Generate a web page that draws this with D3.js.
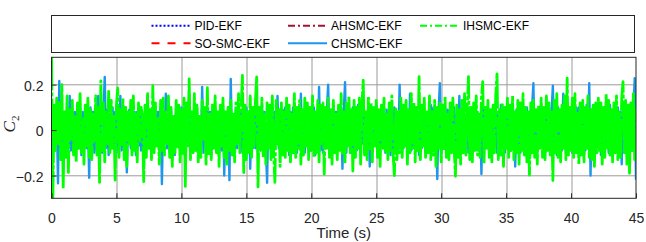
<!DOCTYPE html>
<html>
<head>
<meta charset="utf-8">
<script src="https://cdn.jsdelivr.net/npm/d3@7"></script>
<style>
body { margin: 0; background: #fff; }
svg { display: block; font-family: "Liberation Sans", Arial, sans-serif; }
.grid line { stroke: #9a9a9a; stroke-width: 1; }
.box { fill: none; stroke: #262626; stroke-width: 1; }
.tick-label { fill: #262626; }
</style>
</head>
<body>
<svg id="chart" width="646" height="242"></svg>
<script>
// sampling of the fast signals (s) and of the hidden reference signals (s)
const fineStep = 0.1
const coarseStep = 1

const xTicks = [0, 5, 10, 15, 20, 25, 30, 35, 40, 45]
const yTicks = [-0.2, 0, 0.2]
const xDomain = [0, 45]
const yDomain = [-0.3, 0.32]

// C2 estimates
const pidEkf = [0, .02, -.03, .01, .03, -.02, .01, -.03, .02, .01, -.02, .03, -.01, .02, -.03, .01, .02, -.02, .01, -.01, .03, -.02, .01, .02, -.03, .01, -.01, .02, -.02, .03, -.01, .02, -.03, .01, .01, -.02, .03, -.01, .02, -.02, .01, -.03, .02, .01, -.02, .01]
const soSmcEkf = [0, -.02, .03, -.01, .02, .01, -.03, .02, -.01, .03, -.02, .01, .02, -.03, .01, -.01, .03, -.02, .02, -.01, .01, .03, -.02, -.01, .02, -.03, .01, .02, -.01, .03, -.02, .01, -.01, .02, -.03, .02, .01, -.02, .03, -.01, .02, -.02, .01, .03, -.01, .02]
const ahsmcEkf = [0, .03, -.01, -.02, .02, -.03, .01, .02, -.02, .01, .03, -.01, -.02, .02, .01, -.03, .02, -.01, .03, -.02, .01, -.01, .02, -.03, .02, .01, -.02, .03, -.01, .01, -.02, .03, -.01, .02, -.02, .01, .02, -.03, .01, -.01, .03, -.02, .02, -.01, .01, -.02]
const chsmcEkf = [
  .04, -.07, .09, -.06, .10, -.234, .216, -.08, .07, -.10,
  .08, -.06, .10, -.08, .15, -.09, .06, -.10, .08, -.07,
  .09, -.08, .06, -.11, .08, -.05, .10, -.08, .07, -.21,
  .10, -.07, .08, -.10, .06, -.09, .15, -.06, .08, -.10,
  .08, .234, -.08, .09, -.11, .07, -.08, .10, -.06, .08,
  -.10, .08, -.07, .15, -.09, .06, -.08, .10, -.186, .07,
  .09, -.08, .10, -.06, .08, -.11, .08, -.07, .10, -.09,
  .06, -.10, .08, -.08, .15, -.06, .09, -.10, .07, -.08,
  .10, -.07, .08, -.09, .10, -.237, .08, -.06, .16, -.08,
  .07, -.10, .09, -.08, .06, -.11, .10, -.07, .08, -.09,
  .10, -.08, .07, -.10, .09, -.06, .16, -.08, .08, -.10,
  .08, -.07, .10, -.09, .06, -.08, .19, -.10, .08, -.07,
  .10, -.08, .08, -.11, .09, -.06, .10, -.08, .07, -.10,
  .08, -.09, .11, -.20, .08, -.07, .10, -.22, .225, -.08,
  .07, -.10, .09, -.08, .11, -.06, .08, -.10, .08, -.09,
  .10, -.07, .08, -.17, .06, -.08, .10, -.08, .09, -.10,
  .08, -.06, .11, -.09, .08, -.07, -.232, .10, -.08, .07,
  .09, -.10, .08, -.06, .15, -.08, .07, -.10, .09, -.08,
  .10, -.07, .08, -.11, .08, -.09, .10, -.06, .07, -.10,
  .09, -.08, .16, -.08, .06, -.10, .08, -.07, .10, -.09,
  .08, -.06, .10, -.11, .08, -.07, .19, -.09, .08, -.10,
  .09, -.08, .08, .20, -.10, .07, -.08, .11, -.06, .08,
  -.09, .10, -.07, .08, -.17, .08, .21, -.10, .09, -.07,
  .08, -.10, .10, -.08, .07, -.09, .11, -.08, .08, -.06,
  .10, -.10, .08, -.07, .09, -.16, .08, -.08, .10, -.06,
  .11, -.09, .07, -.08, .10, -.08, .06, -.10, .09, -.07,
  .08, -.11, .08, -.09, .10, -.06, .07, -.10, .20, -.08,
  .09, -.08, .10, -.07, .08, -.10, .16, -.09, .06, -.08,
  .10, -.07, .08, -.11, .09, -.08, .10, -.06, .07, -.10,
  .08, -.09, .11, -.08, .10, -.07, .06, -.215, .08, .206,
  -.10, .08, -.08, .10, -.07, .09, -.11, .08, -.06, .08,
  .10, -.09, .07, -.08, .15, -.08, .09, -.10, .06, -.07,
  .08, -.10, .10, -.08, .09, -.07, .11, -.08, .08, -.09,
  .07, -.193, .10, -.08, .10, -.06, .08, -.11, .08, -.09,
  .10, -.07, .09, -.10, .08, -.08, .11, -.06, .07, -.10,
  .10, -.08, .08, -.09, .10, -.07, .08, -.16, .09, -.08,
  .06, -.10, .11, -.08, .07, -.09, .10, -.08, .08, -.07,
  .10, .206, -.09, .08, -.10, .08, -.06, .11, -.08, .07,
  -.10, .09, -.08, .10, -.07, .08, .195, -.09, .08, -.11,
  .10, -.08, .07, -.09, .16, -.08, .08, -.10, .06, -.07,
  .09, -.10, .08, -.08, .10, -.06, .10, -.11, .08, -.08,
  .07, -.09, .11, -.08, .206, -.20, .09, -.08, .10, -.10,
  .08, -.07, .10, -.11, .08, -.09, .10, -.06, .08, -.10,
  .11, -.08, .07, -.10, .09, -.08, .10, -.07, .08, -.15,
  .10, -.08, .09, -.08, .11, -.10, .07, -.09, .08, .228,
  -.218
]
const ihsmcEkf = [
  .35, -.32, .11, -.09, .14, -.06, .12, -.13, .20, -.256,
  .08, -.12, .15, -.186, .09, -.04, .13, -.11, .06, -.14,
  .12, -.08, .16, -.10, .05, -.15, .11, -.07, .14, -.12,
  .09, -.13, .07, -.05, .15, -.11, .10, -.23, .216, -.09,
  .12, -.14, .08, -.06, .17, -.10, .13, -.08, .06, -.22,
  .11, .185, -.12, .09, -.07, .14, -.13, .10, -.16, .08,
  -.06, .13, -.11, .15, -.09, .07, -.14, .12, -.05, .10,
  .06, -.227, .11, -.12, .16, -.08, .09, -.13, .195, -.10,
  .12, -.07, .05, -.15, .13, -.09, .14, -.11, .08, -.06,
  .15, -.12, .10, -.16, .07, -.10, .13, -.08, .11, -.14,
  .09, -.11, .14, -.248, .12, -.07, .225, -.13, .08, -.10,
  .16, -.09, .11, -.14, .06, -.12, .13, -.05, .10, -.15,
  .186, -.11, .07, -.13, .12, -.08, .15, -.10, .09, -.16,
  .11, -.07, .14, -.12, .08, -.15, .10, -.09, .13, -.11,
  .07, -.14, .12, -.06, .16, -.10, .09, .24, -.187, .11,
  -.13, .08, -.10, .15, -.12, .10, -.07, .13, .234, -.25,
  .10, -.09, .14, -.12, .07, -.15, .12, -.08, .11, -.13,
  .15, -.10, -.23, .13, -.07, .09, -.16, .12, -.11, .08,
  -.12, .14, -.09, .11, -.14, .07, -.10, .16, -.12, .10,
  -.08, .13, -.15, .09, -.11, .14, -.07, .12, -.13, .10,
  -.09, .15, -.12, .08, -.10, .13, -.14, .11, -.06, .12,
  -.194, .10, -.08, .14, -.12, .09, -.15, .13, -.10, .07,
  -.13, .11, -.09, .16, -.11, .08, -.14, .12, -.07, .15,
  -.10, .09, -.18, .13, -.12, .10, -.08, .14, -.15, .11,
  .22, -.11, .08, -.13, .15, -.09, .12, -.14, .10, -.07,
  .13, -.12, .09, -.16, .11, -.08, .14, -.10, .07, -.13,
  .12, -.09, .15, -.11, -.20, .10, -.13, .08, -.10, .14,
  -.12, .11, -.07, .13, -.15, .09, -.10, .16, -.08, .12,
  -.14, .10, -.09, .235, -.13, .11, -.07, .14, -.12, .08,
  -.10, .15, -.13, .09, -.11, .13, -.16, .10, -.08, .12,
  -.14, .11, -.09, .15, -.12, .07, -.13, .12, -.10, .14,
  -.08, -.203, .11, -.12, .09, -.15, .13, -.10, .16, -.11,
  .08, .235, -.13, .10, -.14, .12, -.09, .15, -.11, .07,
  -.12, .14, .213, -.15, .10, -.08, .13, -.12, .09, -.14,
  .11, -.10, .15, .247, -.13, .09, -.11, .12, -.16, .10,
  -.08, .14, -.12, .11, -.09, .15, -.13, .08, -.10, .13,
  -.15, .12, -.09, .16, -.11, .10, -.14, .08, -.198, .12,
  -.10, .13, -.12, .09, -.15, .11, -.08, .14, -.12, .10,
  -.13, .15, -.09, .12, -.11, .08, -.222, .13, -.10, .16,
  -.12, .09, -.14, .11, -.08, .15, -.13, .228, -.11, .10,
  -.09, .14, -.12, .16, -.10, .08, -.15, .12, -.11, .13,
  -.14, .10, -.08, .15, -.12, .09, -.13, .11, -.16, .12,
  -.10, .14, -.09, .12, -.15, .10, -.12, .16, -.08, .13,
  -.11, .09, -.14, .12, -.10, .15, -.13, .08, -.12, .14,
  .213, -.10, .13, -.15, .11, -.19, .12, -.09, .16, -.13,
  .10
]

// plot order matters: the last one drawn ends up on top
const series = [
  { name: 'PID-EKF', values: pidEkf, step: coarseStep, color: '#0000ff', dash: '2,2', legendDash: '2,2', width: 2 },
  { name: 'SO-SMC-EKF', values: soSmcEkf, step: coarseStep, color: '#ff0000', dash: '8,8', legendDash: '8,8', width: 2 },
  { name: 'AHSMC-EKF', values: ahsmcEkf, step: coarseStep, color: '#a2142f', dash: '7,3,2,3', legendDash: '7,3,2,3', width: 2 },
  { name: 'CHSMC-EKF', values: chsmcEkf, step: fineStep, color: '#1e96f0', dash: null, legendDash: null, width: 2.4 },
  { name: 'IHSMC-EKF', values: ihsmcEkf, step: fineStep, color: '#00ff00', dash: '40,2,4,2', legendDash: '7,3,2,3', width: 2.8 }
]

const layout = { left: 51.5, top: 57.3, width: 584.5, height: 141 }

const svg = d3.select('#chart')
const g = svg.append('g').attr('transform', `translate(${layout.left},${layout.top})`)

const xScale = d3.scaleLinear().domain(xDomain).range([0, layout.width])
const yScale = d3.scaleLinear().domain(yDomain).range([layout.height, 0])

g.append('defs').append('clipPath').attr('id', 'clip-plot')
  .append('rect').attr('width', layout.width).attr('height', layout.height)

g.append('rect').attr('width', layout.width).attr('height', layout.height).attr('fill', '#fff')

// grid
const gridG = g.append('g').attr('class', 'grid')
gridG.selectAll('.vline').data(xTicks.filter(t => t !== xDomain[0] && t !== xDomain[1]))
  .enter().append('line')
  .attr('x1', t => Math.round(xScale(t)) + 0.5).attr('x2', t => Math.round(xScale(t)) + 0.5)
  .attr('y1', 0).attr('y2', layout.height)
gridG.selectAll('.hline').data(yTicks)
  .enter().append('line')
  .attr('x1', 0).attr('x2', layout.width)
  .attr('y1', t => Math.round(yScale(t)) + 0.5).attr('y2', t => Math.round(yScale(t)) + 0.5)

// data lines
const linesG = g.append('g').attr('clip-path', 'url(#clip-plot)')
series.forEach(s => {
  const line = d3.line()
    .x((d, i) => xScale(i * s.step))
    .y(d => yScale(d))
  linesG.append('path')
    .datum(s.values)
    .attr('fill', 'none')
    .attr('stroke', s.color)
    .attr('stroke-width', s.width)
    .attr('stroke-linejoin', 'round')
    .attr('stroke-dasharray', s.dash)
    .attr('d', line)
})

// axes
const xAxisEl = g.append('g')
  .attr('transform', `translate(0,${layout.height})`)
  .call(d3.axisBottom(xScale).tickValues(xTicks).tickSizeInner(-5).tickSizeOuter(0).tickPadding(14.5))
const yAxisEl = g.append('g')
  .call(d3.axisLeft(yScale).tickValues(yTicks).tickSizeInner(-5).tickSizeOuter(0).tickPadding(8).tickFormat(d3.format('')))
;[xAxisEl, yAxisEl].forEach(a => {
  a.select('.domain').remove()
  a.selectAll('line').attr('stroke', '#262626')
  a.selectAll('text').attr('class', 'tick-label').style('font-size', '14px')
    .style('font-family', '"Liberation Sans", Arial, sans-serif')
})
yAxisEl.selectAll('text').attr('dy', '0.4em')

g.append('rect').attr('class', 'box')
  .attr('x', 0).attr('y', 0).attr('width', layout.width).attr('height', layout.height)

g.append('text')
  .attr('x', layout.width / 2).attr('y', 180.5)
  .attr('text-anchor', 'middle')
  .style('font-size', '15px').attr('fill', '#262626')
  .text('Time (s)')

const yLabel = svg.append('text')
  .attr('transform', 'translate(15,124) rotate(-90)')
  .attr('text-anchor', 'middle')
  .style('font-family', '"Liberation Serif", "Times New Roman", serif')
  .style('font-style', 'italic')
  .style('font-size', '17px')
  .attr('fill', '#262626')
yLabel.append('tspan').text('C')
yLabel.append('tspan').attr('dy', 4).style('font-size', '11px').style('font-style', 'normal').text('2')

// legend
const legend = { x: 51.5, y: 15.5, width: 583, height: 37 }
const legendG = svg.append('g')
legendG.append('rect')
  .attr('x', legend.x).attr('y', legend.y).attr('width', legend.width).attr('height', legend.height)
  .attr('fill', '#fff').attr('stroke', '#262626').attr('stroke-width', 1)

const legendCols = [151.5, 288, 420]
const legendRows = [25.7, 43.3]
series.forEach((s, i) => {
  const col = Math.floor(i / 2)
  const row = i % 2
  const lx = legendCols[col]
  const ly = legendRows[row]
  legendG.append('line')
    .attr('x1', lx).attr('x2', lx + 39).attr('y1', ly).attr('y2', ly)
    .attr('stroke', s.color).attr('stroke-width', 2)
    .attr('stroke-dasharray', s.legendDash)
  legendG.append('text')
    .attr('x', lx + 43).attr('y', ly + 4.3)
    .style('font-size', '12px').attr('fill', '#000')
    .text(s.name)
})
</script>
</body>
</html>
